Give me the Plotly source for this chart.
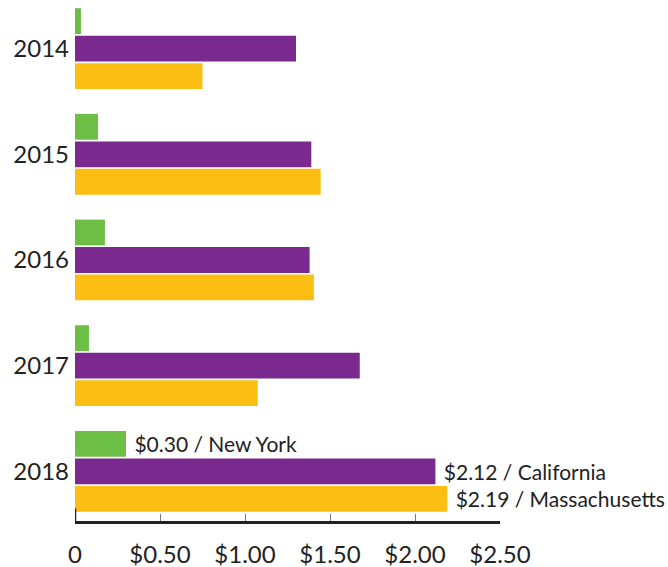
import plotly.graph_objects as go

years = ["2014", "2015", "2016", "2017", "2018"]
new_york = [0.035, 0.135, 0.176, 0.082, 0.30]
california = [1.30, 1.39, 1.38, 1.675, 2.12]
massachusetts = [0.75, 1.445, 1.405, 1.075, 2.19]
series_names = ["New York", "California", "Massachusetts"]
colors = ["#6CBE45", "#7A2A8E", "#FCBE12"]
x_tickvals = [0, 0.5, 1.0, 1.5, 2.0, 2.5]
x_ticktext = ["0", "$0.50", "$1.00", "$1.50", "$2.00", "$2.50"]

FONT = "Lato"
fig = go.Figure()
for name, vals, col in zip(series_names, [new_york, california, massachusetts], colors):
    texts = ["" for _ in vals]
    texts[-1] = f" ${vals[-1]:.2f} / {name}"
    fig.add_trace(go.Bar(
        y=years, x=vals, orientation="h", name=name,
        marker=dict(color=col, line=dict(width=0)),
        text=texts, textposition="outside", constraintext="none",
        cliponaxis=False,
        textfont=dict(family=FONT, size=21, color="#222222"),
        hoverinfo="x+name",
    ))

# thick end cap of the value axis at zero (axis decoration)
fig.add_shape(type="line", xref="x", yref="paper", x0=0, x1=0, y0=0, y1=0.024,
              line=dict(color="#222222", width=2.5))

fig.update_layout(
    width=668, height=567,
    margin=dict(l=75, r=168, t=0, b=46),
    barmode="group", bargap=0.22, bargroupgap=0.06,
    plot_bgcolor="white", paper_bgcolor="white",
    showlegend=False,
    font=dict(family=FONT, color="#222222"),
    xaxis=dict(range=[0, 2.5], tickvals=x_tickvals, ticktext=x_ticktext,
               showgrid=False, zeroline=False, automargin=False,
               showline=True, linecolor="#222222", linewidth=2.5,
               ticks="inside", ticklen=7, tickcolor="#777777", tickwidth=1,
               tickfont=dict(family=FONT, size=24, color="#222222"),
               ticklabelstandoff=10),
    yaxis=dict(categoryorder="array", categoryarray=years,
               range=[4.47, -0.46], showgrid=False, zeroline=False,
               showline=False, ticks="", automargin=False,
               tickfont=dict(family=FONT, size=24, color="#222222"),
               ticklabelstandoff=5),
)

fig.write_html("out.html", config={"displayModeBar": False},
               post_script="document.body.style.margin='0';")
